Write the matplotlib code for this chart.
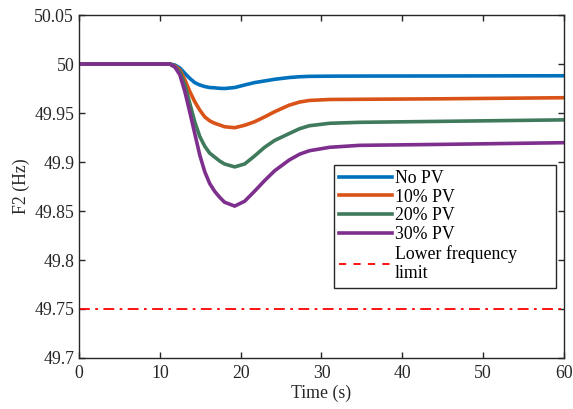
import matplotlib
matplotlib.use("Agg")
import matplotlib.pyplot as plt
from matplotlib.lines import Line2D

plt.rcParams['font.family'] = ['Liberation Serif', 'DejaVu Serif']
plt.rcParams['font.size'] = 12.8

# time points (s)
time = [0, 10, 11.23, 11.85, 12.47, 13.09, 13.7, 14.32, 14.94, 15.56, 16.17,
        16.79, 17.4, 18.0, 19.26, 20.5, 21.7, 22.96, 24.2, 26.0, 27.3, 28.5,
        31.0, 34.7, 45, 60]

no_pv = [50.0, 50.0, 50.0, 49.999, 49.996, 49.9905, 49.9854, 49.981, 49.9786, 49.977,
         49.976, 49.9757, 49.9752, 49.975, 49.976, 49.9786, 49.981, 49.9827, 49.9844,
         49.9862, 49.987, 49.9874, 49.9876, 49.9877, 49.9878, 49.988]
pv10 = [50.0, 50.0, 50.0, 49.998, 49.994, 49.984, 49.972, 49.9615, 49.953, 49.946,
        49.942, 49.9395, 49.9378, 49.936, 49.935, 49.9375, 49.941, 49.946, 49.9513,
        49.958, 49.9612, 49.9628, 49.9638, 49.964, 49.9645, 49.9656]
pv20 = [50.0, 50.0, 50.0, 49.997, 49.992, 49.9786, 49.960, 49.941, 49.926, 49.916,
        49.909, 49.905, 49.901, 49.898, 49.895, 49.898, 49.906, 49.915, 49.922,
        49.929, 49.934, 49.937, 49.9395, 49.9405, 49.9415, 49.943]
pv30 = [50.0, 50.0, 50.0, 49.997, 49.989, 49.972, 49.951, 49.929, 49.907, 49.890,
        49.878, 49.870, 49.864, 49.859, 49.855, 49.860, 49.870, 49.881, 49.891,
        49.902, 49.908, 49.9115, 49.915, 49.917, 49.918, 49.9197]

lower_limit = 49.75
labels = ['No PV', '10% PV', '20% PV', '30% PV']
colors = ['#0072BD', '#D95319', '#3F7A5C', '#7E2F8E']

fig = plt.figure(figsize=(5.73, 4.09), dpi=100)
ax = fig.add_axes([0.138, 0.1247, 0.846, 0.8386])

for y, lab, c in zip([no_pv, pv10, pv20, pv30], labels, colors):
    ax.plot(time, y, color=c, linewidth=2.6, label=lab,
            solid_capstyle='round', solid_joinstyle='round')

ax.axhline(lower_limit, color='red', linewidth=1.3, linestyle=(0, (6, 3, 1.5, 3)))

ax.set_xlim(0, 60)
ax.set_ylim(49.7, 50.05)
ax.set_xticks(range(0, 61, 10))
ax.set_yticks([49.7, 49.75, 49.8, 49.85, 49.9, 49.95, 50, 50.05])
ax.set_yticklabels(['49.7', '49.75', '49.8', '49.85', '49.9', '49.95', '50', '50.05'])
ax.tick_params(direction='in', top=True, right=True, length=4, width=1,
               colors='#262626', labelsize=12.8)
ax.tick_params(axis='x', pad=5)
for s in ax.spines.values():
    s.set_color('#262626')
    s.set_linewidth(1)

ax.set_xlabel('Time (s)', color='#262626', labelpad=2)
ax.set_ylabel('F2 (Hz)', color='#262626', labelpad=3)

handles = [Line2D([], [], color=c, linewidth=2.6) for c in colors]
handles.append(Line2D([], [], color='red', linewidth=1.3, linestyle=(0, (4, 4))))
leg = ax.legend(handles, labels + ['Lower frequency\nlimit'],
                loc='upper left', bbox_to_anchor=(0.507, 0.205, 0.495, 0.385),
                mode='expand',
                fancybox=False, framealpha=1, edgecolor='#262626',
                handlelength=3.0, handletextpad=0.15, borderpad=0.3,
                labelspacing=0.1, fontsize=12.8)
leg.get_frame().set_linewidth(1)

fig.savefig('out.png', dpi=100)
